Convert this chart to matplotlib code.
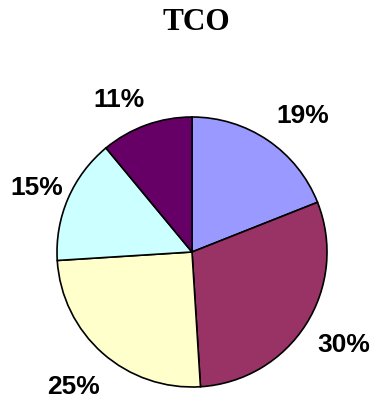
import numpy as np
import matplotlib.pyplot as plt

# TCO breakdown, clockwise from 12 o'clock
shares = [19, 30, 25, 15, 11]
colors = ['#9999FF', '#993366', '#FFFFCC', '#CCFFFF', '#660066']
title = 'TCO'

fig = plt.figure(figsize=(3.73, 4.0), dpi=100)
fig.patch.set_facecolor('white')

# square axes holding the pie
ax = fig.add_axes([57 / 373, 13 / 400, 270 / 373, 270 / 400])
wedges, _ = ax.pie(shares, colors=colors, startangle=90, counterclock=False,
                   radius=1.0, wedgeprops=dict(edgecolor='black', linewidth=1.2))
ax.set_xlim(-1, 1)
ax.set_ylim(-1, 1)
ax.set_aspect('equal')
ax.axis('off')

# percentage labels outside the wedges (radius, angle nudge in degrees)
dist = [1.30, 1.32, 1.33, 1.24, 1.25]
nudge = [-5, 1, 0, 1, 6]
for w, v, d, n in zip(wedges, shares, dist, nudge):
    ang = np.deg2rad((w.theta1 + w.theta2) / 2 + n)
    ax.text(d * np.cos(ang), d * np.sin(ang), f'{v}%',
            ha='center', va='center', fontsize=19, fontweight='bold',
            family='Liberation Sans', clip_on=False)

fig.text(196 / 373, 1 - 23 / 400, title, ha='center', va='center',
         fontsize=22.5, fontweight='bold', family='Liberation Serif')

plt.savefig('out.png', dpi=100)
